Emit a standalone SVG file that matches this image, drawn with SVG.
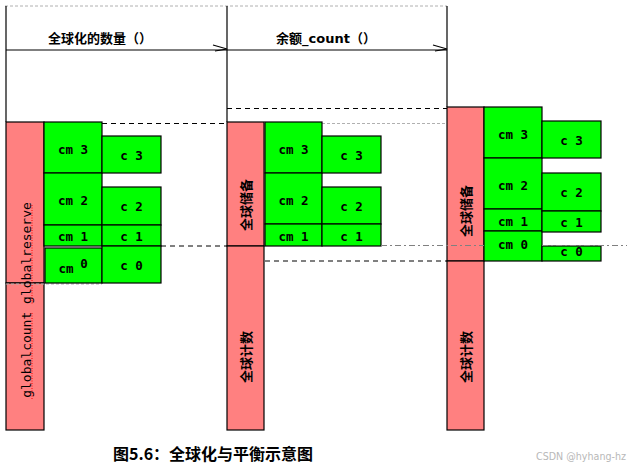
<svg xmlns="http://www.w3.org/2000/svg" width="640" height="468" viewBox="0 0 640 468">
<style>
.bg{fill:#ffffff}
.pink{fill:#FF8080;stroke:#000;stroke-width:1.2}
.green{fill:#00FF00;stroke:#000;stroke-width:1.2}
.lbl{font-family:"DejaVu Sans Mono","Liberation Mono",monospace;font-size:12.5px;font-weight:bold;fill:#000;text-anchor:middle;dominant-baseline:central}
.vlbl{font-family:"Noto Sans CJK SC","DejaVu Sans",sans-serif;font-size:13px;font-weight:bold;fill:#000;text-anchor:middle;dominant-baseline:central}
.mono{font-family:"DejaVu Sans Mono","Liberation Mono",monospace;font-size:13px;fill:#000;text-anchor:middle}
.head{font-family:"DejaVu Sans","Noto Sans CJK SC",sans-serif;font-size:13px;font-weight:bold;fill:#000;text-anchor:middle;dominant-baseline:central}
.solid{stroke:#000;stroke-width:1.2;fill:none}
.dash{stroke:#000;stroke-width:1;stroke-dasharray:5,4;fill:none}
.gray{stroke:#b0b0b0;stroke-width:1;stroke-dasharray:3,2;fill:none}
.dashdot{stroke:#808080;stroke-width:1;stroke-dasharray:6,3,2,3;fill:none}
.spell{stroke:#ff0000;stroke-width:1;stroke-dasharray:1,1.5;fill:none}
</style>
<rect class="bg" x="0" y="0" width="640" height="468"/>

<g id="connectors">
  <line class="gray" x1="5" y1="6" x2="447" y2="6"/>
  <line class="solid" x1="6" y1="6" x2="6" y2="122"/>
  <line class="solid" x1="227" y1="6" x2="227" y2="122"/>
  <line class="solid" x1="447" y1="6" x2="447" y2="107"/>
  <line class="solid" x1="6" y1="50" x2="447" y2="50"/>
  <polyline class="solid" points="213,45 227,49 215,51"/>
  <polyline class="solid" points="433,45 447,49 435,51"/>
  <line class="dash" x1="102" y1="123.5" x2="227" y2="123.5"/>
  <line class="gray" x1="322" y1="123.5" x2="447" y2="123.5"/>
  <line class="dash" x1="227" y1="108.5" x2="447" y2="108.5"/>
  <line class="dash" x1="161" y1="246" x2="227" y2="246"/>
  <line class="dash" x1="265" y1="261" x2="447" y2="261"/>
</g>

<g id="header1"><text class="head" x="100" y="38">全球化的数量（）</text></g>
<g id="header2"><text class="head" x="326" y="38">余额_count（）</text></g>

<g id="col1-global">
  <rect class="pink" x="6" y="122" width="38" height="161"/>
  <rect class="pink" x="6" y="283" width="38" height="147"/>
  <line class="gray" x1="6" y1="284" x2="102" y2="284"/>
  <text class="mono" transform="translate(30.5,300) rotate(-90)" x="0" y="0">globalcount globalreserve</text>
  <line class="spell" x1="32" y1="205" x2="32" y2="305"/>
  <line class="spell" x1="32" y1="313" x2="32" y2="400"/>
</g>
<g id="col1-cm3"><rect class="green" x="44" y="122" width="58" height="51"/><text class="lbl" x="73" y="149">cm 3</text></g>
<g id="col1-cm2"><rect class="green" x="44" y="173" width="58" height="52"/><text class="lbl" x="73" y="200">cm 2</text></g>
<g id="col1-cm1"><rect class="green" x="44" y="225" width="58" height="21"/><text class="lbl" x="73" y="236.5">cm 1</text></g>
<g id="col1-cm0"><rect class="green" x="45" y="248" width="57" height="35"/><text class="lbl" x="66" y="268">cm</text><text class="lbl" x="84" y="263">0</text></g>
<g id="col1-c3"><rect class="green" x="102" y="136" width="59" height="37"/><text class="lbl" x="131.5" y="155.5">c 3</text></g>
<g id="col1-c2"><rect class="green" x="102" y="187" width="59" height="38"/><text class="lbl" x="131.5" y="206.5">c 2</text></g>
<g id="col1-c1"><rect class="green" x="102" y="225" width="59" height="21"/><text class="lbl" x="131.5" y="236.5">c 1</text></g>
<g id="col1-c0"><rect class="green" x="102" y="246" width="59" height="37"/><text class="lbl" x="131.5" y="265.5">c 0</text></g>

<g id="col2-global">
  <rect class="pink" x="227" y="122" width="37" height="124"/>
  <rect class="pink" x="227" y="246" width="37" height="184"/>
  <text class="vlbl" transform="translate(245,205) rotate(-90)" x="0" y="0">全球储备</text>
  <text class="vlbl" transform="translate(245,357) rotate(-90)" x="0" y="0">全球计数</text>
</g>
<g id="col2-cm3"><rect class="green" x="265" y="122" width="57" height="51"/><text class="lbl" x="293.5" y="149">cm 3</text></g>
<g id="col2-cm2"><rect class="green" x="265" y="173" width="57" height="51"/><text class="lbl" x="293.5" y="200">cm 2</text></g>
<g id="col2-cm1"><rect class="green" x="265" y="224" width="57" height="22"/><text class="lbl" x="293.5" y="236.5">cm 1</text></g>
<g id="col2-c3"><rect class="green" x="322" y="136" width="59" height="37"/><text class="lbl" x="351.5" y="155.5">c 3</text></g>
<g id="col2-c2"><rect class="green" x="322" y="187" width="59" height="37"/><text class="lbl" x="351.5" y="206.5">c 2</text></g>
<g id="col2-c1"><rect class="green" x="322" y="224" width="59" height="22"/><text class="lbl" x="351.5" y="236.5">c 1</text></g>

<g id="col3-global">
  <rect class="pink" x="447" y="107" width="37" height="154"/>
  <rect class="pink" x="447" y="261" width="37" height="169"/>
  <text class="vlbl" transform="translate(465,211) rotate(-90)" x="0" y="0">全球储备</text>
  <text class="vlbl" transform="translate(465,357) rotate(-90)" x="0" y="0">全球计数</text>
</g>
<g id="col3-cm3"><rect class="green" x="484" y="107" width="58" height="51"/><text class="lbl" x="513" y="134">cm 3</text></g>
<g id="col3-cm2"><rect class="green" x="484" y="158" width="58" height="51"/><text class="lbl" x="513" y="185">cm 2</text></g>
<g id="col3-cm1"><rect class="green" x="484" y="209" width="58" height="22"/><text class="lbl" x="513" y="221">cm 1</text></g>
<g id="col3-cm0"><rect class="green" x="484" y="231" width="58" height="30"/><text class="lbl" x="513" y="244">cm 0</text></g>
<g id="col3-c3"><rect class="green" x="542" y="121" width="59" height="37"/><text class="lbl" x="571.5" y="140.5">c 3</text></g>
<g id="col3-c2"><rect class="green" x="542" y="173" width="59" height="38"/><text class="lbl" x="571.5" y="192.5">c 2</text></g>
<g id="col3-c1"><rect class="green" x="542" y="211" width="59" height="21"/><text class="lbl" x="571.5" y="222">c 1</text></g>
<g id="col3-c0"><rect class="green" x="542" y="246" width="59" height="15"/><text class="lbl" x="571.5" y="251">c 0</text></g>

<g id="balance-line">
  <line class="dashdot" x1="381" y1="245.5" x2="484" y2="245.5"/>
  <line class="dashdot" x1="542" y1="245.5" x2="627" y2="245.5"/>
</g>

<g id="caption"><text x="113" y="460" style="font-family:'Noto Sans CJK SC','DejaVu Sans',sans-serif;font-size:16px;font-weight:bold;fill:#000">图5.6：全球化与平衡示意图</text></g>
<g id="watermark"><text x="536" y="460" textLength="90" lengthAdjust="spacingAndGlyphs" style="font-family:'DejaVu Sans',sans-serif;font-size:11px;fill:#b8b8b8">CSDN @hyhang-hz</text></g>
</svg>
